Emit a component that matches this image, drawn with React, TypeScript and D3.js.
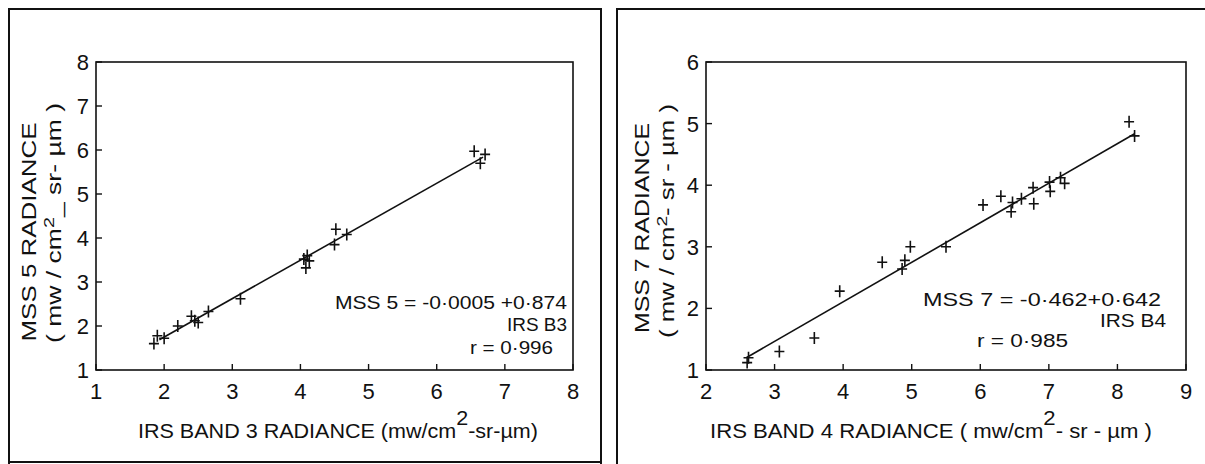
import * as d3 from 'd3';

// IRS band 3 vs MSS 5 (left panel)
const band3X = [1.85, 1.9, 2.0, 2.2, 2.4, 2.45, 2.5, 2.65, 3.12, 4.05, 4.08, 4.1, 4.13, 4.5, 4.52, 4.68, 6.55, 6.64, 6.71];
const mss5Y = [1.6, 1.78, 1.72, 2.0, 2.22, 2.12, 2.08, 2.33, 2.62, 3.52, 3.32, 3.6, 3.48, 3.85, 4.2, 4.08, 5.97, 5.7, 5.9];
const ticksB3 = [1, 2, 3, 4, 5, 6, 7, 8];
const ticksM5 = [1, 2, 3, 4, 5, 6, 7, 8];
const fitM5 = [-0.0005, 0.874];
const spanM5 = [1.93, 6.68];

// IRS band 4 vs MSS 7 (right panel)
const band4X = [2.6, 2.62, 3.07, 3.58, 3.95, 4.57, 4.86, 4.9, 4.98, 5.5, 6.04, 6.3, 6.45, 6.47, 6.6, 6.77, 6.78, 7.01, 7.02, 7.17, 7.23, 8.17, 8.25];
const mss7Y = [1.12, 1.2, 1.3, 1.52, 2.28, 2.75, 2.64, 2.78, 3.0, 3.0, 3.68, 3.82, 3.57, 3.72, 3.78, 3.96, 3.7, 4.05, 3.9, 4.12, 4.03, 5.03, 4.8];
const ticksB4 = [2, 3, 4, 5, 6, 7, 8, 9];
const ticksM7 = [1, 2, 3, 4, 5, 6];
const fitM7 = [-0.462, 0.642];
const spanM7 = [2.6, 8.25];

const FONT = "'Liberation Sans', Arial, sans-serif";
const INK = '#111';

function Scatter({ xs, ys, xTicks, yTicks, fit, span, left, right, top, bottom }) {
  const x = d3.scaleLinear().domain(d3.extent(xTicks)).range([left, right]);
  const y = d3.scaleLinear().domain(d3.extent(yTicks)).range([bottom, top]);
  const fitLine = d3.line<number>()
    .x(d => x(d))
    .y(d => y(fit[0] + fit[1] * d));
  const pts = xs.map((v, i) => [x(v), y(ys[i])]);
  return (
    <g>
      {/* caja del gráfico */}
      <rect x={left} y={top} width={right - left} height={bottom - top} fill="none" stroke={INK} strokeWidth={1.6} />
      {xTicks.map(t => (
        <g key={'x' + t}>
          <line x1={x(t)} x2={x(t)} y1={bottom} y2={bottom - 6} stroke={INK} strokeWidth={1.4} />
          <text x={x(t)} y={bottom + 29} textAnchor="middle" fontSize={22} fontFamily={FONT} fill={INK}>{t}</text>
        </g>
      ))}
      {yTicks.map(t => (
        <g key={'y' + t}>
          <line x1={left} x2={left + 6} y1={y(t)} y2={y(t)} stroke={INK} strokeWidth={1.4} />
          <text x={left - 7} y={y(t) + 8} textAnchor="end" fontSize={22} fontFamily={FONT} fill={INK}>{t}</text>
        </g>
      ))}
      <path d={fitLine(span) || ''} fill="none" stroke={INK} strokeWidth={1.6} />
      {pts.map(([px, py], i) => (
        <path key={i} d={`M${px - 5},${py}H${px + 5}M${px},${py - 6}V${py + 6}`} stroke={INK} strokeWidth={1.6} fill="none" />
      ))}
    </g>
  );
}

function YTitle({ x1, x2, yc1, yc2, len1, len2, first, pre, post }) {
  return (
    <g fontFamily={FONT} fill={INK}>
      <text transform={`translate(${x1},${yc1}) rotate(-90)`} fontSize={20} textAnchor="middle" textLength={len1} lengthAdjust="spacingAndGlyphs">{first}</text>
      <text transform={`translate(${x2},${yc2}) rotate(-90)`} fontSize={20} textAnchor="middle" textLength={len2} lengthAdjust="spacingAndGlyphs">
        {pre}<tspan dy={-7} fontSize={15}>2</tspan><tspan dy={7}>{post}</tspan>
      </text>
    </g>
  );
}

export default function App() {
  return (
    <svg width={1205} height={464} style={{ position: 'absolute', left: 0, top: 0, background: '#fff' }}>
      <rect x={0} y={0} width={1205} height={464} fill="#fff" />
      {/* marcos de los paneles */}
      <path d="M9,464V9H601V464M9,462H601" fill="none" stroke={INK} strokeWidth={2} />
      <path d="M617,464V9H1205" fill="none" stroke={INK} strokeWidth={2} />

      <Scatter xs={band3X} ys={mss5Y} xTicks={ticksB3} yTicks={ticksM5} fit={fitM5} span={spanM5}
        left={96} right={573} top={62} bottom={370} />
      <Scatter xs={band4X} ys={mss7Y} xTicks={ticksB4} yTicks={ticksM7} fit={fitM7} span={spanM7}
        left={706} right={1186} top={62} bottom={370} />

      <YTitle x1={36} x2={61} yc1={232} yc2={223} len1={219} len2={240}
        first="MSS 5 RADIANCE" pre="( mw / cm" post="_ sr- µm )" />
      <YTitle x1={649} x2={674} yc1={228} yc2={221} len1={210} len2={234}
        first="MSS 7 RADIANCE" pre="( mw / cm" post="- sr - µm )" />

      <g fontFamily={FONT} fontSize={21} fill={INK}>
        <text x={138} y={438} textLength={400} lengthAdjust="spacingAndGlyphs">
          IRS BAND 3 RADIANCE (mw/cm<tspan dy={-13}>2</tspan><tspan dy={13}>-sr-µm)</tspan>
        </text>
        <text x={710} y={438} textLength={442} lengthAdjust="spacingAndGlyphs">
          IRS  BAND 4 RADIANCE ( mw/cm<tspan dy={-13}>2</tspan><tspan dy={13}>- sr - µm )</tspan>
        </text>
      </g>

      <g fontFamily={FONT} fontSize={19} fill={INK}>
        <text x={335} y={309} textLength={232} lengthAdjust="spacingAndGlyphs">MSS 5 = -0·0005 +0·874</text>
        <text x={567} y={331} textAnchor="end" textLength={60} lengthAdjust="spacingAndGlyphs">IRS B3</text>
        <text x={470} y={354} textLength={83} lengthAdjust="spacingAndGlyphs">r = 0·996</text>

        <text x={923} y={306} textLength={238} lengthAdjust="spacingAndGlyphs">MSS 7 = -0·462+0·642</text>
        <text x={1166} y={327} textAnchor="end" textLength={66} lengthAdjust="spacingAndGlyphs">IRS B4</text>
        <text x={977} y={347} textLength={91} lengthAdjust="spacingAndGlyphs">r = 0·985</text>
      </g>
    </svg>
  );
}
